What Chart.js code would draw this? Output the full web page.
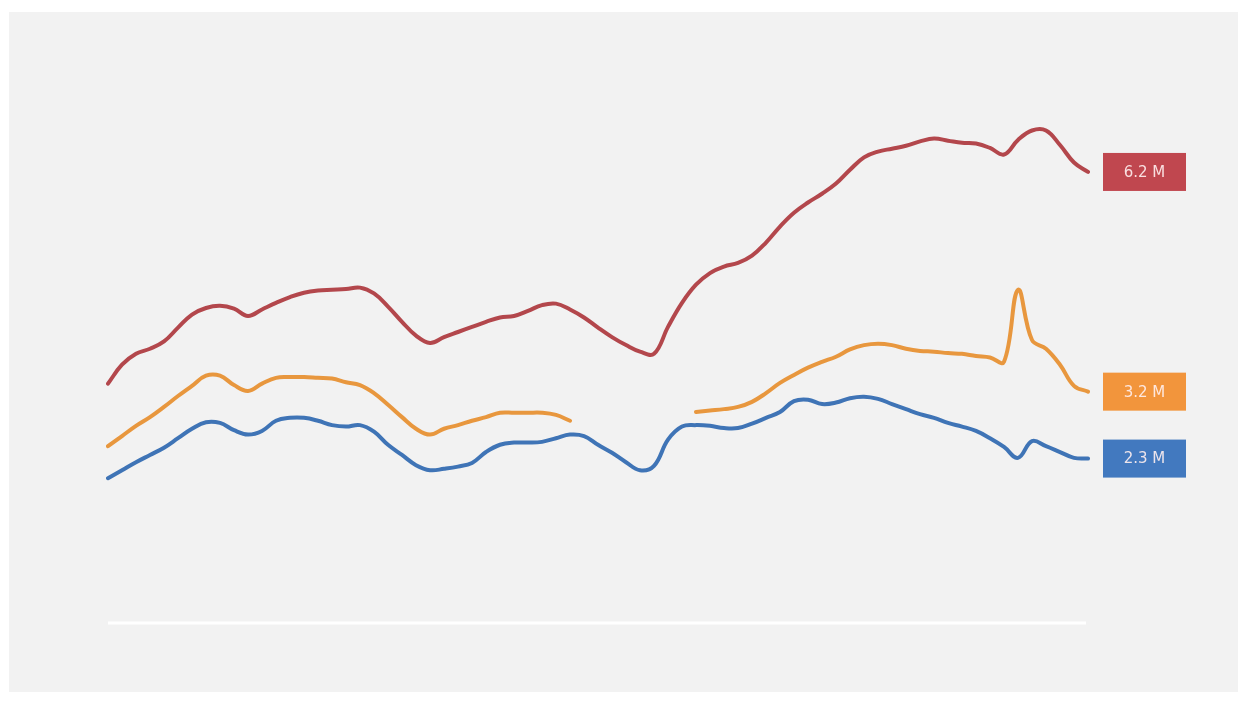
<!DOCTYPE html>
<html>
<head>
<meta charset="utf-8">
<script src="https://cdn.jsdelivr.net/npm/chart.js@4.4.1/dist/chart.umd.min.js"></script>
<style>
    html, body { margin: 0; padding: 0; background: #ffffff; }
    #panel { position: absolute; left: 9px; top: 12px; width: 1229px; height: 680px; background: #f2f2f2; }
    canvas { display: block; }
</style>
</head>
<body>
<div id="panel"><canvas id="lineChart" width="1229" height="680"></canvas></div>
<script>
// 71 samples, values in millions
const periods = Array.from({ length: 71 }, (_, i) => `${i + 1}`);

const redValues = [3.29, 3.55, 3.70, 3.77, 3.87, 4.06, 4.24, 4.33, 4.36, 4.32,
    4.22, 4.31, 4.40, 4.48, 4.54, 4.57, 4.58, 4.59, 4.61, 4.53,
    4.35, 4.14, 3.95, 3.85, 3.93, 4.00, 4.07, 4.14, 4.20, 4.22,
    4.29, 4.37, 4.39, 4.31, 4.20, 4.06, 3.93, 3.82, 3.73, 3.70,
    4.07, 4.40, 4.65, 4.81, 4.90, 4.95, 5.05, 5.23, 5.45, 5.64,
    5.78, 5.90, 6.04, 6.23, 6.40, 6.48, 6.52, 6.56, 6.62, 6.66,
    6.63, 6.60, 6.59, 6.53, 6.44, 6.64, 6.77, 6.77, 6.57, 6.33,
    6.20];

const orangeValues = [2.43, 2.57, 2.71, 2.83, 2.97, 3.12, 3.26, 3.40, 3.40, 3.27,
    3.19, 3.29, 3.37, 3.38, 3.38, 3.37, 3.36, 3.31, 3.27, 3.16,
    3.00, 2.83, 2.67, 2.59, 2.67, 2.72, 2.78, 2.83, 2.89, 2.89,
    2.89, 2.89, 2.86, 2.78, null, null, null, null, null, null,
    null, null, 2.90, 2.92, 2.94, 2.97, 3.04, 3.16, 3.30, 3.41,
    3.51, 3.59, 3.66, 3.76, 3.82, 3.84, 3.82, 3.77, 3.74, 3.73,
    3.71, 3.70, 3.67, 3.65, 3.59, 4.58, 3.89, 3.77, 3.55, 3.26,
    3.18];

const blueValues = [1.99, 2.10, 2.21, 2.31, 2.41, 2.54, 2.67, 2.76, 2.75, 2.65,
    2.59, 2.64, 2.78, 2.82, 2.82, 2.78, 2.72, 2.70, 2.72, 2.63,
    2.45, 2.31, 2.17, 2.10, 2.12, 2.15, 2.20, 2.35, 2.45, 2.48,
    2.48, 2.49, 2.54, 2.59, 2.57, 2.45, 2.34, 2.21, 2.10, 2.16,
    2.52, 2.70, 2.72, 2.71, 2.68, 2.68, 2.74, 2.82, 2.90, 3.05,
    3.07, 3.01, 3.03, 3.09, 3.11, 3.08, 3.01, 2.94, 2.87, 2.82,
    2.75, 2.70, 2.64, 2.54, 2.42, 2.27, 2.50, 2.43, 2.35, 2.27,
    2.26];

const endLabels = ['6.2 M', '3.2 M', '2.3 M'];
const lineColors = ['#b3474c', '#e8973e', '#3f74b6'];
const boxColors = ['#c0474f', '#f2953c', '#4279bf'];

// white baseline + value boxes at the end of each line
const endLabelPlugin = {
    id: 'endLabels',
    beforeDatasetsDraw(chart) {
        const ctx = chart.ctx;
        const y0 = chart.scales.y.getPixelForValue(0);
        ctx.save();
        ctx.strokeStyle = '#ffffff';
        ctx.lineWidth = 3;
        ctx.beginPath();
        ctx.moveTo(chart.chartArea.left, y0);
        ctx.lineTo(chart.chartArea.right - 2, y0);
        ctx.stroke();
        ctx.restore();
    },
    afterDatasetsDraw(chart) {
        const ctx = chart.ctx;
        ctx.save();
        chart.data.datasets.forEach((ds, i) => {
            const meta = chart.getDatasetMeta(i);
            const last = meta.data[meta.data.length - 1];
            const x = last.x + 15;
            const y = last.y;
            ctx.fillStyle = boxColors[i];
            ctx.fillRect(x, y - 19, 83, 38);
            ctx.fillStyle = 'rgba(255, 240, 240, 0.9)';
            ctx.font = '15px "DejaVu Sans", sans-serif';
            ctx.textAlign = 'center';
            ctx.textBaseline = 'middle';
            ctx.fillText(endLabels[i], x + 41.5, y + 1);
        });
        ctx.restore();
    }
};

const ctx = document.getElementById('lineChart').getContext('2d');

const lineChart = new Chart(ctx, {
    type: 'line',
    data: {
        labels: periods,
        datasets: [
            { label: 'Red', data: redValues, borderColor: lineColors[0] },
            { label: 'Orange', data: orangeValues, borderColor: lineColors[1] },
            { label: 'Blue', data: blueValues, borderColor: lineColors[2] }
        ]
    },
    options: {
        responsive: false,
        animation: false,
        spanGaps: false,
        elements: {
            line: { borderWidth: 4, tension: 0.4, fill: false, borderCapStyle: 'round', borderJoinStyle: 'round' },
            point: { radius: 0, hoverRadius: 0 }
        },
        layout: {
            padding: { left: 99, right: 150, top: 29, bottom: 69 }
        },
        plugins: {
            legend: { display: false },
            tooltip: { enabled: false }
        },
        scales: {
            x: { display: false, offset: false },
            y: { display: false, min: 0, max: 8 }
        }
    },
    plugins: [endLabelPlugin]
});
</script>
</body>
</html>
